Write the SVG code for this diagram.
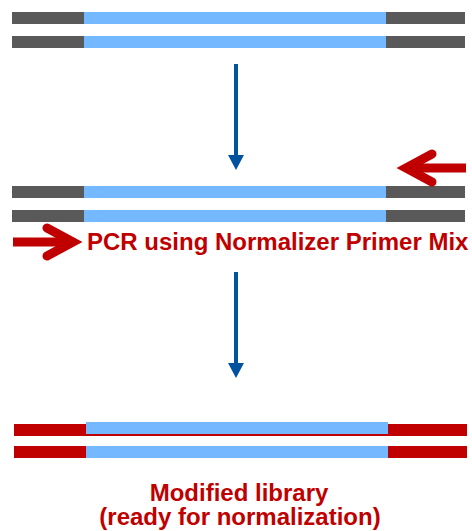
<svg xmlns="http://www.w3.org/2000/svg" width="472" height="531" viewBox="0 0 472 531">
  <style>
    .adapter { fill: #595959; }
    .insert { fill: #74B8FF; }
    .modified { fill: #C00000; }
    .flow { stroke: #0352A0; stroke-width: 4; fill: none; }
    .primer { stroke: #C00000; stroke-width: 9; fill: none; }
    .chevron { stroke: #C00000; stroke-width: 9; fill: none; stroke-linecap: round; stroke-linejoin: miter; }
    .label { font-family: "Liberation Sans", Arial, sans-serif; font-weight: bold; font-size: 24px; fill: #C00000; }
  </style>
  <defs>
    <marker id="flowhead" markerWidth="15" markerHeight="16" refX="0" refY="8" orient="auto" markerUnits="userSpaceOnUse" viewBox="0 0 15 16">
      <path d="M0 0 L15 8 L0 16 Z" fill="#0352A0"/>
    </marker>
  </defs>

  <!-- starting library: double-stranded insert with adapters -->
  <g id="library-start">
    <rect class="adapter" x="12" y="12" width="453" height="12"/>
    <rect class="insert" x="84" y="12" width="302" height="12"/>
    <rect class="adapter" x="12" y="36" width="453" height="12"/>
    <rect class="insert" x="84" y="36" width="302" height="12"/>
  </g>

  <!-- PCR step: library with primers -->
  <g id="library-pcr">
    <rect class="adapter" x="12" y="186" width="453" height="12"/>
    <rect class="insert" x="84" y="186" width="302" height="12"/>
    <rect class="adapter" x="12" y="210" width="453" height="12"/>
    <rect class="insert" x="84" y="210" width="302" height="12"/>
  </g>

  <g id="primer-reverse">
    <line class="primer" x1="466" y1="168" x2="408" y2="168"/>
    <polyline class="chevron" points="432,154 406,168 432,182"/>
  </g>

  <g id="primer-forward">
    <line class="primer" x1="13" y1="242" x2="70" y2="242"/>
    <polyline class="chevron" points="47,228 73,242 47,256"/>
    <text class="label" x="87" y="250">PCR using Normalizer Primer Mix</text>
  </g>

  <!-- modified library with new adapter ends -->
  <g id="library-modified">
    <rect class="modified" x="14" y="424" width="453" height="12"/>
    <rect class="insert" x="86" y="422" width="302" height="12"/>
    <rect class="modified" x="14" y="446" width="453" height="12"/>
    <rect class="insert" x="86" y="446" width="302" height="12"/>
    <text class="label" x="239" y="501" text-anchor="middle">Modified library</text>
    <text class="label" x="240" y="525" text-anchor="middle">(ready for normalization)</text>
  </g>

  <g id="connectors">
    <line class="flow" x1="236" y1="64" x2="236" y2="155" marker-end="url(#flowhead)"/>
    <line class="flow" x1="236" y1="272" x2="236" y2="363" marker-end="url(#flowhead)"/>
  </g>
</svg>
